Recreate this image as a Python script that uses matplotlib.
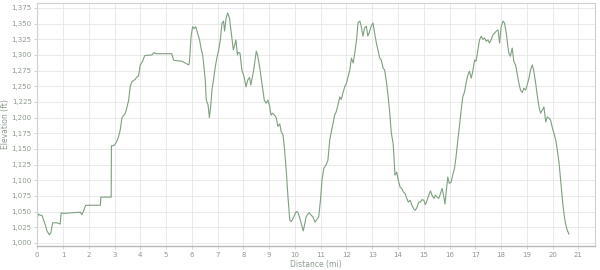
import matplotlib.pyplot as plt
from matplotlib.ticker import FuncFormatter

# elevation profile (distance in miles, elevation in feet)
distance = [
    0.0, 0.05, 0.12, 0.18, 0.22, 0.31, 0.38, 0.47, 0.53, 0.6, 0.76, 0.89, 0.93, 1.02,
    1.67, 1.73, 1.8, 1.88, 2.45, 2.47, 2.87, 2.88, 2.96, 3.03, 3.1, 3.16, 3.22, 3.29,
    3.42, 3.48, 3.55, 3.61, 3.67, 3.8, 3.87, 3.93, 4.0, 4.09, 4.17, 4.45, 4.54, 4.6,
    5.22, 5.29, 5.36, 5.62, 5.75, 5.88, 5.91, 5.97, 6.03, 6.09, 6.15, 6.2, 6.3, 6.37,
    6.42, 6.47, 6.52, 6.56, 6.63, 6.68, 6.73, 6.78, 6.85, 6.91, 6.97, 7.04, 7.1, 7.17,
    7.23, 7.27, 7.33, 7.39, 7.46, 7.52, 7.61, 7.65, 7.71, 7.77, 7.8, 7.87, 7.94, 8.03,
    8.1, 8.17, 8.24, 8.29, 8.4, 8.5, 8.55, 8.63, 8.72, 8.81, 8.88, 8.95, 9.02, 9.07,
    9.13, 9.21, 9.28, 9.34, 9.41, 9.47, 9.54, 9.6, 9.67, 9.73, 9.8, 9.86, 9.95, 10.05,
    10.11, 10.18, 10.25, 10.32, 10.37, 10.43, 10.5, 10.56, 10.63, 10.69, 10.78, 10.86,
    10.92, 10.99, 11.05, 11.12, 11.2, 11.28, 11.35, 11.41, 11.48, 11.54, 11.6, 11.67,
    11.74, 11.8, 11.86, 11.93, 12.0, 12.06, 12.13, 12.19, 12.26, 12.32, 12.39, 12.45,
    12.52, 12.57, 12.64, 12.7, 12.77, 12.83, 12.9, 12.96, 13.03, 13.09, 13.16, 13.22,
    13.29, 13.35, 13.42, 13.48, 13.55, 13.61, 13.68, 13.74, 13.81, 13.85, 13.88, 13.95,
    14.01, 14.08, 14.14, 14.21, 14.27, 14.34, 14.4, 14.47, 14.54, 14.61, 14.67, 14.74,
    14.8, 14.87, 14.93, 15.0, 15.06, 15.13, 15.19, 15.26, 15.32, 15.39, 15.45, 15.52,
    15.58, 15.65, 15.71, 15.78, 15.82, 15.87, 15.93, 15.99, 16.06, 16.12, 16.19, 16.25,
    16.32, 16.38, 16.45, 16.51, 16.58, 16.64, 16.71, 16.77, 16.84, 16.9, 16.97, 17.03,
    17.1, 17.16, 17.23, 17.29, 17.36, 17.42, 17.49, 17.55, 17.62, 17.68, 17.75, 17.81,
    17.88, 17.94, 18.0, 18.07, 18.13, 18.2, 18.26, 18.3, 18.36, 18.43, 18.49, 18.56,
    18.62, 18.69, 18.75, 18.82, 18.88, 18.95, 19.01, 19.08, 19.14, 19.21, 19.27, 19.34,
    19.4, 19.47, 19.53, 19.6, 19.66, 19.73, 19.79, 19.86, 19.92, 19.99, 20.05, 20.12,
    20.18, 20.25, 20.31, 20.38, 20.44, 20.5, 20.57, 20.63,
]
elevation = [
    1040, 1046, 1044, 1044, 1040, 1029, 1019, 1013, 1016, 1032, 1032, 1030, 1048, 1047,
    1049, 1045, 1051, 1060, 1060, 1073, 1073, 1155, 1155, 1158, 1163, 1170, 1180, 1200,
    1207, 1216, 1228, 1250, 1257, 1261, 1265, 1266, 1284, 1290, 1299, 1300, 1304, 1302,
    1302, 1292, 1291, 1290, 1287, 1284, 1290, 1330, 1345, 1342, 1345, 1338, 1324, 1308,
    1300, 1281, 1260, 1228, 1220, 1200, 1217, 1244, 1263, 1281, 1295, 1308, 1322, 1351,
    1354, 1338, 1359, 1367, 1359, 1338, 1308, 1314, 1324, 1300, 1304, 1303, 1276, 1265,
    1249, 1260, 1264, 1252, 1276, 1306, 1300, 1281, 1255, 1228, 1223, 1228, 1218, 1204,
    1207, 1204, 1199, 1186, 1190, 1177, 1172, 1148, 1111, 1073, 1036, 1034, 1041, 1050,
    1049, 1041, 1030, 1019, 1028, 1041, 1046, 1048, 1044, 1042, 1033, 1038,
    1041, 1068, 1100, 1119, 1124, 1132, 1164, 1177, 1191, 1204, 1209, 1220,
    1233, 1229, 1239, 1249, 1255, 1265, 1276, 1295, 1287, 1303, 1324, 1352,
    1354, 1346, 1330, 1343, 1346, 1330, 1338, 1346, 1351, 1335, 1319, 1308,
    1295, 1292, 1279, 1276, 1257, 1236, 1207, 1175, 1159, 1132, 1108, 1113,
    1100, 1089, 1087, 1081, 1079, 1071, 1065, 1068, 1060, 1054, 1052, 1057,
    1065, 1065, 1069, 1068, 1061, 1068, 1076, 1083, 1076, 1071, 1076, 1073,
    1071, 1079, 1087, 1073, 1062, 1081, 1105, 1095, 1097, 1108, 1119, 1137,
    1164, 1185, 1212, 1233, 1241, 1255, 1268, 1274, 1263, 1274, 1292, 1290,
    1308, 1324, 1330, 1325, 1327, 1322, 1324, 1319, 1325, 1332, 1335, 1338,
    1340, 1319, 1345, 1354, 1351, 1335, 1314, 1303, 1298, 1311, 1290, 1284,
    1271, 1255, 1244, 1240, 1247, 1244, 1252, 1263, 1276, 1284, 1274, 1255,
    1236, 1217, 1207, 1212, 1217, 1193, 1201, 1199, 1196, 1183, 1175, 1164,
    1148, 1127, 1100, 1068, 1046, 1030, 1020, 1014,
]

x_ticks = list(range(0, 22))
y_ticks = list(range(1000, 1376, 25))

text_color = "#8c9a8c"
grid_color = "#e6e6e6"
line_color = "#7f9f80"

fig = plt.figure(figsize=(6, 2.7), dpi=100)
ax = fig.add_axes([0.062, 0.089, 0.930, 0.900])

ax.plot(distance, elevation, color=line_color, linewidth=0.8)

ax.set_xlim(0, 21.65)
ax.set_ylim(995, 1383)
ax.set_xticks(x_ticks)
ax.set_yticks(y_ticks)
ax.yaxis.set_major_formatter(FuncFormatter(lambda v, p: f"{int(v):,}"))

ax.grid(True, color=grid_color, linewidth=0.6)
ax.set_axisbelow(True)

for side in ["top", "right", "left"]:
    ax.spines[side].set_color("#d0d0d0")
    ax.spines[side].set_linewidth(0.8)
ax.spines["bottom"].set_color("#b8b8b8")
ax.spines["bottom"].set_linewidth(1.0)

ax.tick_params(axis="both", labelsize=5, colors=text_color, length=2, width=0.5, pad=2)
ax.tick_params(axis="both", color="#c0c0c0")

ax.set_xlabel("Distance (mi)", fontsize=5.5, color=text_color, labelpad=2)
ax.set_ylabel("Elevation (ft)", fontsize=5.5, color=text_color)
ax.yaxis.set_label_coords(-0.048, 0.5)

fig.savefig("out.png", dpi=100)
